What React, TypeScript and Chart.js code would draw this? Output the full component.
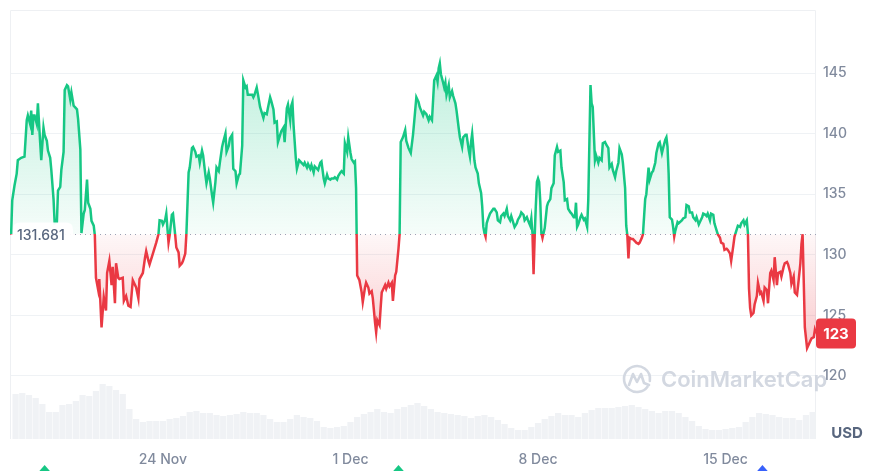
import { useEffect, useRef } from "react";
import { Chart, registerables } from "chart.js";

Chart.register(...registerables);

// ---- data (hours since 18 Nov 00:00) ----
const baseline = 131.681;
const lastPrice = 123;
const tickHours = [144, 312, 480, 648];
const tickLabels = ["24 Nov", "1 Dec", "8 Dec", "15 Dec"];
const yTicks = [120, 125, 130, 135, 140, 145];
const markerHours = [38, 355, 681];
const markerColors = ["#16c784", "#16c784", "#3861fb"];

const priceHours = [
  8, 9, 11, 13, 14, 17, 20, 22, 23, 25, 26, 27, 28, 29, 31, 32, 34, 35, 37, 38, 40, 41, 43, 44, 46, 47, 49, 50, 52, 53,
  55, 56, 58, 59, 61, 62, 64, 65, 67, 68, 70, 71, 73, 74, 76, 77, 79, 80, 82, 83, 84, 86, 87, 89, 91, 93, 94, 96, 98, 99,
  101, 102, 104, 105, 108, 109, 111, 113, 115, 117, 120, 122, 123, 126, 128, 129, 131, 132, 135, 138, 140, 141, 143, 144,
  146, 147, 149, 150, 152, 153, 155, 156, 158, 159, 161, 162, 164, 165, 167, 168, 170, 171, 173, 174, 176, 177, 179, 180,
  182, 183, 185, 186, 188, 189, 191, 192, 194, 195, 197, 198, 200, 201, 203, 204, 206, 207, 209, 210, 212, 213, 215, 216,
  218, 219, 220, 224, 225, 226, 228, 229, 231, 232, 234, 235, 237, 238, 240, 241, 243, 244, 246, 247, 249, 250, 252, 253,
  255, 256, 258, 259, 260, 261, 263, 264, 266, 268, 270, 271, 273, 274, 276, 277, 279, 280, 282, 283, 285, 286, 288, 289,
  291, 292, 294, 295, 297, 298, 300, 301, 303, 304, 306, 307, 309, 310, 312, 313, 315, 316, 317, 318, 320, 322, 323, 325,
  326, 328, 329, 331, 332, 334, 335, 336, 338, 339, 340, 341, 343, 344, 346, 347, 349, 350, 352, 353, 355, 356, 357, 359,
  361, 362, 364, 366, 368, 369, 371, 373, 374, 377, 378, 380, 382, 383, 385, 387, 389, 390, 391, 392, 393, 395, 396, 397,
  398, 400, 401, 403, 404, 406, 407, 409, 410, 412, 413, 415, 416, 418, 419, 420, 421, 423, 424, 426, 427, 429, 430, 431,
  432, 433, 434, 435, 437, 440, 441, 443, 444, 446, 447, 449, 450, 452, 453, 455, 456, 458, 459, 461, 462, 464, 465, 467,
  468, 470, 471, 473, 474, 475, 476, 477, 478, 479, 480, 481, 482, 483, 484, 486, 488, 489, 491, 492, 494, 495, 497, 498,
  500, 501, 503, 504, 506, 507, 509, 510, 512, 513, 514, 515, 516, 518, 519, 521, 522, 524, 525, 527, 528, 529, 531, 532,
  534, 535, 537, 538, 540, 541, 543, 544, 546, 547, 549, 550, 552, 553, 555, 556, 558, 559, 560, 561, 562, 564, 565, 567,
  568, 570, 571, 573, 574, 576, 577, 579, 580, 582, 583, 585, 586, 588, 589, 591, 592, 594, 595, 596, 597, 598, 600, 601,
  602, 603, 605, 606, 609, 610, 612, 613, 615, 616, 618, 619, 621, 622, 624, 625, 627, 628, 630, 631, 632, 634, 635, 637,
  638, 640, 641, 643, 644, 646, 647, 649, 650, 652, 653, 655, 656, 658, 659, 661, 662, 664, 665, 667, 668, 669, 670, 671,
  673, 674, 676, 677, 679, 680, 682, 683, 685, 686, 688, 689, 691, 692, 694, 695, 697, 698, 700, 701, 703, 704, 706, 707,
  709, 710, 712, 713, 715, 716, 717, 718, 719, 721, 722, 724, 725, 727, 728, 729,
];

const prices = [
  131.681, 134.5, 135.7, 136.7, 137.8, 138.0, 138.1, 141.1, 141.5, 140.8, 141.9, 139.9, 141.5, 141.5, 140.8, 142.5, 139.3,
  137.8, 140.5, 139.9, 139.4, 138.6, 138.0, 137.0, 134.6, 132.6, 132.7, 135.3, 135.6, 137.0,
  138.5, 143.6, 144.0, 143.9, 142.8, 143.4, 142.3, 142.2, 142.0, 141.2, 138.7, 131.8, 133.4, 133.7, 136.2, 134.3, 133.8,
  132.8, 132.4, 131.6, 128.1, 127.1, 128.0, 124.0, 126.5, 125.4, 128.5, 129.5, 127.5, 129.0,
  126.0, 129.3, 128.1, 128.0, 128.1, 126.2, 126.6, 125.8, 125.7, 127.9, 127.3, 126.4, 128.0, 128.5, 129.8, 130.3, 129.5,
  129.2, 130.1, 131.0, 131.7, 132.85, 132.8, 132.5,
  132.9, 133.4, 131.0, 131.6, 133.3, 133.4, 131.6, 130.6, 130.2, 129.1, 129.3, 129.5, 130.1, 131.7, 136.8, 137.2, 138.8,
  138.9, 138.5, 138.1, 138.2, 137.6, 138.6, 138.2,
  136.6, 135.9, 136.8, 136.3, 134.9, 134.3, 136.0, 137.2, 136.9, 137.6, 138.9, 139.3, 140.0, 138.5, 139.0, 139.6, 139.9,
  137.1, 136.9, 135.9, 136.6, 136.7, 139.0, 144.4,
  143.8, 143.9, 143.2, 143.2, 143.0, 143.2, 143.8, 143.3, 142.2, 141.9, 141.3, 141.7, 141.6, 142.1, 143.0, 142.7, 142.0,
  140.9, 141.0, 139.3, 139.9, 140.2, 140.5, 139.3,
  142.1, 142.4, 141.1, 142.3, 142.6, 140.7, 138.0, 137.1, 137.8, 137.6, 137.4, 137.6, 137.2, 137.5, 137.1, 137.4, 136.8,
  137.3, 137.1, 137.0, 137.6, 137.7, 136.3, 135.9,
  136.6, 136.3, 136.2, 136.3, 136.3, 136.4, 136.2, 136.5, 136.8, 136.9, 136.7, 139.2, 138.5, 139.7, 138.4, 137.9, 137.6,
  137.7, 135.5, 128.3, 127.9, 126.9, 126.1, 127.3,
  127.7, 127.3, 126.8, 127.0, 126.4, 124.4, 123.6, 124.6, 124.2, 125.6, 126.9, 127.1, 127.5, 127.2, 127.7, 127.4, 127.7,
  126.2, 128.3, 128.6, 130.5, 131.7, 139.3, 139.7,
  140.3, 139.4, 138.8, 138.4, 139.9, 140.9, 143.0, 142.6, 142.2, 141.5, 141.8, 141.6, 141.1, 141.4, 141.1, 144.4, 144.8,
  144.3, 145.4, 145.8, 144.9, 144.2, 143.8, 144.2,
  143.2, 144.0, 143.0, 143.5, 143.1, 142.5, 141.9, 140.4, 139.7, 138.9, 139.7, 139.9, 139.9, 138.6, 138.1, 139.3, 140.0,
  137.8, 137.2, 136.7, 135.9, 135.1, 134.0, 132.3,
  131.8, 131.5, 132.6, 132.9, 133.4, 133.8, 133.8, 133.5, 132.85, 132.7, 133.2, 133.4, 133.2, 133.8, 133.2, 132.85, 133.2,
  132.6, 132.3, 132.6, 132.9, 133.2, 133.5, 133.3,
  132.85, 133.1, 132.85, 132.4, 133.0, 131.8, 128.4, 131.5, 134.0, 136.0, 136.3, 136.0, 134.4, 131.8, 131.4, 132.2, 134.0,
  134.3, 134.6, 135.5, 135.9, 138.2, 138.9, 138.5,
  138.6, 137.2, 136.0, 134.5, 134.6, 133.8, 133.5, 133.4, 133.1, 133.1, 134.3, 132.3, 132.5, 133.1, 133.3, 132.9, 133.0,
  132.3, 134.5, 144.0, 142.5, 142.2, 137.8, 138.2,
  137.6, 138.0, 137.8, 139.2, 139.3, 139.1, 138.8, 137.2, 137.5, 137.0, 136.4, 136.9, 137.6, 138.8, 138.3, 137.6, 135.5,
  132.4, 131.6, 129.7, 131.4, 131.3, 131.3, 131.1,
  131.0, 130.9, 131.0, 131.4, 131.7, 134.6, 135.0, 137.2, 136.2, 136.8, 136.9, 137.6, 138.4, 139.2, 139.3, 138.4, 138.8,
  139.5, 139.7, 138.9, 136.7, 133.1, 132.9, 132.3,
  131.5, 132.0, 132.7, 132.6, 132.85, 133.0, 133.1, 134.1, 134.0, 133.5, 133.5, 133.1, 132.85, 133.1, 132.5, 132.7, 133.1,
  133.4, 133.3, 133.2, 133.4, 132.85, 133.4, 133.3,
  132.6, 132.0, 131.7, 131.4, 131.0, 130.9, 130.4, 130.5, 130.4, 130.1, 129.5, 130.8, 131.5, 132.1, 132.4, 132.3, 132.6,
  132.85, 132.5, 132.85, 131.8, 127.2, 125.6, 125.0,
  125.2, 125.9, 126.6, 127.7, 126.8, 126.9, 126.2, 127.3, 127.1, 126.0, 128.5, 128.7, 127.9, 129.8, 127.5, 128.5, 128.6,
  128.2, 129.0, 129.3, 129.4, 129.2, 128.5, 127.6,
  128.2, 126.9, 126.7, 127.5, 129.3, 130.9, 131.7, 127.9, 124.0, 122.3, 122.5, 122.9, 123.1, 123.2, 123.8, 123.5,
];

// 24h volume bars, one every 6 hours starting 18 Nov 12:00 (relative units)
const volumes = [
  45, 46, 44, 41, 35, 27, 27, 34, 35, 38,
  44, 43, 48, 55, 53, 49, 45, 30, 20, 17,
  18, 18, 18, 20, 21, 23, 27, 28, 26, 26,
  24, 23, 24, 25, 27, 26, 26, 24, 20, 17,
  17, 20, 24, 22, 21, 18, 12, 11, 12, 13,
  17, 22, 25, 27, 30, 27, 26, 30, 32, 34,
  36, 33, 30, 27, 26, 25, 24, 23, 21, 23,
  24, 22, 19, 15, 11, 9, 9, 12, 16, 20,
  23, 26, 24, 24, 22, 26, 29, 31, 31, 31,
  32, 33, 34, 32, 30, 28, 26, 28, 28, 26,
  22, 18, 13, 10, 9, 9, 10, 11, 12, 17,
  22, 26, 25, 24, 22, 21, 21, 19, 24, 27,
];
const volumeStartHour = 12;
const volumeStepHours = 6;

const GREEN = "#16c784";
const RED = "#ea3943";
const TEXT = "#808a9d";
const FONT = "Inter";

function rgba(hex: string, a: number) {
  const n = parseInt(hex.slice(1), 16);
  return `rgba(${(n >> 16) & 255},${(n >> 8) & 255},${n & 255},${a})`;
}

function roundRect(ctx: CanvasRenderingContext2D, x: number, y: number, w: number, h: number, r: number) {
  ctx.beginPath();
  ctx.moveTo(x + r, y);
  ctx.lineTo(x + w - r, y);
  ctx.quadraticCurveTo(x + w, y, x + w, y + r);
  ctx.lineTo(x + w, y + h - r);
  ctx.quadraticCurveTo(x + w, y + h, x + w - r, y + h);
  ctx.lineTo(x + r, y + h);
  ctx.quadraticCurveTo(x, y + h, x, y + h - r);
  ctx.lineTo(x, y + r);
  ctx.quadraticCurveTo(x, y, x + r, y);
  ctx.closePath();
}

const decor = {
  id: "decor",
  beforeDatasetsDraw(chart: any) {
    const { ctx, chartArea: a, scales } = chart;
    ctx.save();
    // frame
    ctx.strokeStyle = "#eef0f3";
    ctx.lineWidth = 1;
    ctx.beginPath();
    ctx.moveTo(a.left + 0.5, a.bottom);
    ctx.lineTo(a.left + 0.5, a.top + 0.5);
    ctx.lineTo(a.right - 0.5, a.top + 0.5);
    ctx.lineTo(a.right - 0.5, a.bottom);
    ctx.stroke();

    // watermark
    const cx = a.right - 179;
    const cy = a.bottom - 60;
    ctx.strokeStyle = "#d3d8e1";
    ctx.lineWidth = 2.6;
    ctx.lineCap = "round";
    ctx.lineJoin = "round";
    ctx.beginPath();
    ctx.arc(cx, cy, 13, Math.PI * 0.2, Math.PI * 2.05);
    ctx.stroke();
    ctx.beginPath();
    ctx.moveTo(cx - 8, cy + 6);
    ctx.lineTo(cx - 4, cy - 5);
    ctx.lineTo(cx, cy + 3);
    ctx.lineTo(cx + 4, cy - 5);
    ctx.lineTo(cx + 7, cy + 4);
    ctx.lineTo(cx + 12, cy + 6);
    ctx.stroke();
    ctx.fillStyle = "#d3d8e1";
    ctx.font = `600 22px ${FONT}`;
    ctx.textAlign = "left";
    ctx.textBaseline = "middle";
    ctx.fillText("CoinMarketCap", cx + 24, cy + 1);

    // dotted baseline
    const yb = Math.round(scales.y.getPixelForValue(baseline)) + 0.5;
    ctx.strokeStyle = "#9aa3b5";
    ctx.lineWidth = 1;
    ctx.lineCap = "butt";
    ctx.setLineDash([1, 4]);
    ctx.beginPath();
    ctx.moveTo(a.left, yb);
    ctx.lineTo(a.right, yb);
    ctx.stroke();
    ctx.restore();
  },
  afterDatasetsDraw(chart: any) {
    const { ctx, chartArea: a, scales } = chart;
    ctx.save();
    const yb = scales.y.getPixelForValue(baseline);
    // baseline label
    ctx.fillStyle = "rgba(255,255,255,0.95)";
    roundRect(ctx, a.left + 3, yb - 12, 60, 24, 7);
    ctx.fill();
    ctx.fillStyle = "#58667e";
    ctx.font = `500 14px ${FONT}`;
    ctx.textAlign = "left";
    ctx.textBaseline = "middle";
    ctx.fillText(baseline.toFixed(3), a.left + 7, yb + 1);
    ctx.restore();
  },
  afterDraw(chart: any) {
    const { ctx, chartArea: a, scales, height } = chart;
    ctx.save();
    // last price tag
    const yl = scales.y.getPixelForValue(prices[prices.length - 1]);
    ctx.fillStyle = RED;
    roundRect(ctx, a.right, yl - 15, 40, 30, 4);
    ctx.fill();
    ctx.fillStyle = "#ffffff";
    ctx.font = `700 15px ${FONT}`;
    ctx.textAlign = "center";
    ctx.textBaseline = "middle";
    ctx.fillText(String(lastPrice), a.right + 20, yl + 1);
    // currency
    ctx.fillStyle = "#58667e";
    ctx.font = `700 15px ${FONT}`;
    ctx.textAlign = "center";
    ctx.fillText("USD", a.right + 31, a.bottom - 6);
    // event markers at the bottom edge
    markerHours.forEach((h, i) => {
      const x = scales.x.getPixelForValue(h);
      ctx.fillStyle = markerColors[i];
      ctx.beginPath();
      ctx.moveTo(x, height - 6);
      ctx.lineTo(x + 7, height + 2);
      ctx.lineTo(x - 7, height + 2);
      ctx.closePath();
      ctx.fill();
    });
    ctx.restore();
  },
};

export default function App() {
  const ref = useRef<HTMLCanvasElement>(null);
  useEffect(() => {
    Chart.defaults.font.family = FONT;
    const lineGrad = (c: any, alphaTop: number, alphaBase: number) => {
      const chart = c.chart;
      const { chartArea, scales } = chart;
      if (!chartArea) return "transparent";
      const yTop = scales.y.getPixelForValue(Math.max(...prices));
      const yBot = scales.y.getPixelForValue(Math.min(...prices));
      const yb = scales.y.getPixelForValue(baseline);
      const g = chart.ctx.createLinearGradient(0, yTop, 0, yBot);
      const t = Math.min(1, Math.max(0, (yb - yTop) / (yBot - yTop)));
      g.addColorStop(0, rgba(GREEN, alphaTop));
      g.addColorStop(t, rgba(GREEN, alphaBase));
      g.addColorStop(t, rgba(RED, alphaBase));
      g.addColorStop(1, rgba(RED, alphaTop));
      return g;
    };
    const chart = new Chart(ref.current!, {
      type: "line",
      data: {
        datasets: [
          {
            type: "line",
            data: priceHours.map((h, i) => ({ x: h, y: prices[i] })),
            yAxisID: "y",
            borderWidth: 2.5,
            pointRadius: 0,
            tension: 0,
            order: 1,
            fill: { target: { value: baseline } },
            borderColor: (c: any) => lineGrad(c, 1, 1),
            backgroundColor: (c: any) => lineGrad(c, 0.27, 0.04),
          } as any,
          {
            type: "bar",
            data: volumes.map((v, i) => ({ x: volumeStartHour + i * volumeStepHours, y: v })),
            yAxisID: "yVol",
            backgroundColor: "#f0f2f5",
            barPercentage: 0.93,
            categoryPercentage: 1,
            order: 2,
          } as any,
        ],
      },
      options: {
        animation: false,
        responsive: true,
        maintainAspectRatio: false,
        layout: { padding: { left: 10, top: 10, right: 0, bottom: 0 } },
        plugins: { legend: { display: false }, tooltip: { enabled: false } },
        scales: {
          x: {
            type: "linear",
            min: 7,
            max: 729,
            offset: false,
            grid: { display: false, drawTicks: false },
            border: { display: false },
            afterBuildTicks: (s: any) => {
              s.ticks = tickHours.map((v) => ({ value: v }));
            },
            afterFit: (s: any) => {
              s.height = 32;
              s.paddingLeft = 0;
              s.paddingRight = 0;
            },
            ticks: {
              autoSkip: false,
              maxRotation: 0,
              padding: 12,
              color: TEXT,
              font: { size: 14, weight: "500" },
              callback: (v: any) => tickLabels[tickHours.indexOf(Number(v))] ?? "",
            },
          },
          y: {
            position: "right",
            min: 114.8,
            max: 150.2,
            grid: { color: "#eff2f5", drawTicks: false },
            border: { display: false },
            afterBuildTicks: (s: any) => {
              s.ticks = yTicks.map((v) => ({ value: v }));
            },
            afterFit: (s: any) => {
              s.width = 63;
              s.paddingTop = 0;
              s.paddingBottom = 0;
            },
            ticks: {
              padding: 7,
              color: TEXT,
              font: { size: 14, weight: "500" },
            },
          },
          yVol: { display: false, min: 0, max: 429 },
        },
      } as any,
      plugins: [decor],
    });
    return () => chart.destroy();
  }, []);
  return (
    <div style={{ position: "fixed", left: 0, top: 0, width: 879, height: 471, background: "#fff" }}>
      <canvas ref={ref} />
    </div>
  );
}
